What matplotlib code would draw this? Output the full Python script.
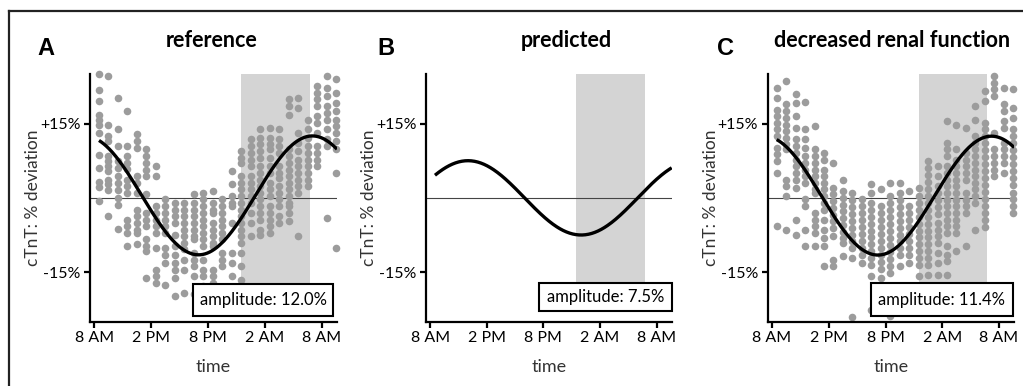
import numpy as np
import matplotlib.pyplot as plt
from matplotlib.lines import Line2D
from matplotlib.patches import Rectangle

plt.rcParams['font.family'] = ['Lato', 'DejaVu Sans']

# hourly sampling times (hours since midnight of day 1), 8:30 AM -> 9:30 AM next day
hours = np.arange(8.5, 34.0, 1.0)

# individual % deviations, one list per sampling time (panel A)
ref_dots = [
    [24.9, 21.7, 19.5, 16.8, 15.8, 14.8, 13.1, 8.6, 6.1, 3.2, 2.2, -0.7],
    [24.6, 14.8, 12.5, 11.4, 8.4, 7.4, 6.4, 5.4, 3.7, 2.7, 1.5, -3.7],
    [20.2, 13.8, 10.5, 7.5, 6.0, 4.5, 3.0, 1.5, 0.0, -1.5, -6.2],
    [17.6, 10.4, 8.4, 7.1, 5.8, 3.7, 2.4, 1.0, -4.4, -5.7, -7.1, -9.8],
    [12.8, 11.4, 10.1, 4.4, 3.0, 1.0, -2.4, -3.7, -5.0, -6.4, -7.1, -9.4],
    [9.8, 8.4, 7.1, 5.7, 4.4, 0.7, -3.0, -4.4, -5.7, -8.4, -9.8, -10.8, -16.2],
    [6.4, 4.4, -1.7, -3.0, -4.4, -5.7, -7.1, -10.1, -14.5, -15.8, -17.2],
    [-0.3, -1.7, -3.0, -4.4, -5.7, -7.1, -10.1, -11.5, -13.1, -17.5],
    [-1.0, -2.4, -3.7, -5.0, -7.5, -9.8, -11.5, -13.1, -14.5, -16.2, -19.9],
    [-1.0, -2.4, -3.7, -5.0, -6.4, -7.7, -9.1, -10.4, -12.5, -14.5, -19.2],
    [0.7, -1.0, -2.4, -3.7, -5.0, -6.4, -7.7, -8.4, -11.1, -12.5, -13.8, -15.8, -19.5],
    [1.0, -0.3, -1.7, -3.0, -4.4, -5.7, -7.1, -8.4, -9.8, -12.5, -14.5, -15.8, -17.8],
    [1.3, -1.0, -2.4, -3.0, -5.0, -6.4, -7.7, -9.1, -9.8, -14.5, -15.8, -17.2],
    [-0.3, -1.7, -3.0, -4.4, -5.7, -7.1, -8.4, -11.1, -12.5, -13.8],
    [5.4, 2.7, 0.3, -1.0, -1.7, -5.0, -11.1, -13.1, -15.8],
    [9.4, 8.1, 7.1, 4.4, 3.0, 1.7, 0.3, -1.0, -2.4, -3.7, -5.0, -6.4, -7.7, -9.1, -11.1, -13.8, -16.5],
    [11.8, 10.4, 9.1, 7.7, 6.4, 4.4, 3.0, 1.7, 0.3, -1.0, -3.0, -5.0, -7.7],
    [13.8, 12.1, 10.8, 9.4, 8.1, 6.4, 5.0, 3.7, 2.4, 1.0, -0.3, -1.7, -3.0, -4.4, -6.4, -7.4],
    [14.1, 12.1, 10.8, 9.8, 8.1, 6.4, 5.0, 3.0, 1.7, 0.3, -1.7, -3.0, -4.4, -5.7, -7.1],
    [13.8, 11.8, 10.4, 9.1, 6.4, 5.0, 4.0, 2.4, 1.0, -0.3, -1.7, -3.7, -5.0],
    [19.9, 18.5, 16.8, 9.8, 8.4, 7.1, 5.7, 4.4, 3.0, 1.7, 0.3, -1.0, -1.7, -3.0, -4.7],
    [20.2, 18.2, 13.1, 11.1, 9.4, 7.7, 6.4, 5.0, 3.7, 2.4, 1.0, -7.7],
    [15.8, 13.8, 12.1, 10.4, 9.1, 7.7, 6.4, 5.0, 3.7, 2.4],
    [22.6, 21.2, 19.9, 18.5, 16.5, 15.1, 13.1, 10.4, 9.1, 7.7, 6.4],
    [24.6, 22.2, 20.5, 18.5, 17.2, 15.8, 13.8, 11.8, 10.4, -4.0],
    [23.9, 21.2, 19.2, 17.5, 15.8, 14.5, 13.1, 11.4, 9.8, 5.0, -10.1],
]

# individual % deviations, decreased renal function (panel C)
renal_dots = [
    [22.2, 20.2, 17.8, 16.5, 15.1, 13.8, 12.5, 10.1, 8.8, 7.4, 5.1, -5.7],
    [23.6, 18.9, 17.5, 16.2, 14.8, 13.5, 12.1, 10.8, 9.8, 3.7, 2.4, 0.3, -6.4],
    [20.9, 19.2, 16.5, 14.1, 11.8, 10.4, 9.1, 7.7, 6.4, 5.0, 3.7, 2.0, -4.4, -7.5],
    [19.3, 13.8, 11.8, 10.1, 8.4, 7.1, 5.7, 4.4, 3.0, -0.3, -1.7, -6.4, -9.8],
    [14.5, 9.8, 8.4, 7.1, 5.7, 4.4, 3.0, 1.7, 1.0, -3.0, -4.4, -5.7, -7.1, -9.8],
    [9.1, 7.7, 5.7, 4.4, 3.0, 1.7, 0.3, -1.0, -2.4, -4.4, -6.4, -8.1, -9.8, -13.8],
    [7.1, 2.0, 0.7, -0.7, -2.0, -3.4, -4.7, -6.1, -7.7, -12.5, -13.8],
    [3.7, 1.3, 0.0, -1.4, -2.7, -4.1, -5.4, -6.8, -8.1, -9.1, -11.8],
    [1.0, -0.4, -1.8, -3.2, -4.6, -6.0, -7.4, -8.8, -10.2, -12.1, -24.0],
    [-0.3, -1.7, -3.1, -4.5, -5.9, -7.3, -8.7, -10.1, -11.5, -13.1],
    [2.7, 1.0, -1.0, -2.4, -3.8, -5.2, -6.6, -8.0, -9.4, -10.8, -12.2, -13.6, -15.8, -22.6],
    [1.7, -1.7, -3.1, -4.5, -5.9, -7.3, -8.7, -10.1, -11.5, -12.9, -14.3, -16.2],
    [3.0, 0.3, -1.1, -2.5, -3.9, -5.3, -6.7, -8.1, -9.5, -10.9, -12.3, -13.7, -15.2, -23.9],
    [3.0, 1.0, -0.4, -1.8, -3.2, -4.6, -6.0, -7.4, -8.8, -10.2, -11.6, -13.8],
    [1.3, -1.7, -3.1, -4.5, -5.9, -7.3, -8.7, -10.1, -11.5, -13.1],
    [2.0, 0.3, -1.0, -2.4, -3.8, -5.2, -6.6, -8.0, -9.4, -10.8, -12.2, -13.6, -15.8],
    [7.4, 6.0, 4.6, 3.2, 1.8, 0.4, -1.0, -2.4, -3.8, -5.2, -6.6, -8.0, -9.4, -10.8, -12.2, -13.6, -15.5],
    [6.4, 4.4, 2.4, 1.0, -0.4, -1.8, -3.2, -5.0, -6.4, -7.8, -9.2, -11.1, -13.1, -15.5],
    [15.5, 11.1, 9.8, 8.4, 6.4, 5.0, 3.7, 2.4, 1.0, -0.4, -1.7, -3.0, -4.4, -5.7, -7.1, -9.8, -11.5, -12.8, -15.5],
    [14.8, 9.8, 7.7, 6.4, 5.0, 3.7, 2.4, 1.0, -0.4, -1.7, -3.0, -4.4, -5.7, -7.1, -10.8],
    [14.1, 9.1, 7.7, 6.4, 5.0, 3.7, 1.0, -0.4, -1.7, -3.0, -9.8],
    [18.5, 15.8, 12.5, 11.1, 9.8, 8.4, 7.1, 5.7, 4.4, 3.0, 1.7, 0.3, -1.0, -6.4],
    [21.5, 19.5, 15.1, 13.8, 12.4, 11.0, 9.6, 8.2, 6.8, 5.4, 4.0, 2.6, 1.2, -0.2, -1.6, -3.0, -4.4, -5.8],
    [24.6, 23.2, 21.9, 20.5, 13.1, 9.8, 8.4, 7.1, 5.7, 4.4],
    [22.2, 18.9, 17.5, 15.5, 14.1, 11.1, 9.8, 8.4, 7.1, 5.0],
    [21.9, 18.2, 16.2, 13.8, 12.4, 11.0, 9.6, 8.2, 6.8, 5.4, 4.0, 2.6, 1.0, -0.3, -1.7, -3.0],
]

# cosinor fits: mesor (%), amplitude (%), acrophase (h)
mesor = [0.5, 0.0, 0.45]
amplitude = [12.0, 7.5, 12.0]
acrophase = [31.0, 12.0, 31.2]
amp_labels = ['amplitude: 12.0%', 'amplitude: 7.5%', 'amplitude: 11.4%']

titles = ['reference', 'predicted', 'decreased renal function']
letters = ['A', 'B', 'C']
sleep_start, sleep_end = 23.5, 30.75

xticks = [8, 14, 20, 26, 32]
xticklabels = ['8 AM', '2 PM', '8 PM', '2 AM', '8 AM']
yticks = [-15, 15]
yticklabels = ['-15%', '+15%']

dot_color = '#9c9c9c'
shade_color = '#d4d4d4'

fig = plt.figure(figsize=(10.23, 3.86), dpi=100)

# panel geometry in pixels: left, width
panel_px = [(90, 247), (426, 245.7), (767.7, 246.5)]
title_x = [212, 566, 892]
letter_x = [37, 377, 717]
# amplitude box (axes fraction): x0, x1, y0, y1
boxes = [(0.418, 0.985, 0.021, 0.153),
         (0.46, 1.0, 0.042, 0.156),
         (0.418, 0.996, 0.021, 0.156)]
dots = [ref_dots, None, renal_dots]

W, H = 1023, 386
for i in range(3):
    left, width = panel_px[i]
    ax = fig.add_axes([left / W, (H - 321.7) / H, width / W, (321.7 - 74) / H])
    ax.set_xlim(7.55, 33.6)
    ax.set_ylim(-25, 25)

    ax.axvspan(sleep_start, sleep_end, ymin=0.15, ymax=1, color=shade_color, lw=0, zorder=0)
    ax.axhline(0, color='#444444', lw=0.8, zorder=1)

    if dots[i] is not None:
        for h, vals in zip(hours, dots[i]):
            ax.scatter([h] * len(vals), vals, s=30, color=dot_color, lw=0, zorder=2, clip_on=False)

    t = np.linspace(8.5, 33.6, 300)
    ax.plot(t, mesor[i] + amplitude[i] * np.cos(2 * np.pi * (t - acrophase[i]) / 24),
            color='black', lw=2.4, zorder=3, solid_capstyle='butt')

    x0, x1, y0, y1 = boxes[i]
    ax.add_patch(Rectangle((x0, y0), x1 - x0, y1 - y0, transform=ax.transAxes,
                           fc='white', ec='black', lw=1.5, zorder=5, clip_on=False))
    ax.text((x0 + x1) / 2, (y0 + y1) / 2, amp_labels[i], transform=ax.transAxes,
            ha='center', va='center', fontsize=12, zorder=6)

    for side in ['top', 'right']:
        ax.spines[side].set_visible(False)
    for side in ['left', 'bottom']:
        ax.spines[side].set_linewidth(1.6)
    ax.set_xticks(xticks)
    ax.set_xticklabels(xticklabels)
    ax.set_yticks(yticks)
    ax.set_yticklabels(yticklabels)
    ax.tick_params(direction='out', length=4.5, width=1.6, labelsize=11.5, pad=2.5)

    fig.text((left - 57) / W, (H - 198) / H, 'cTnT: % deviation', rotation=90,
             ha='center', va='center', fontsize=12.5, color='#333333')
    fig.text((left + width / 2) / W, (H - 367) / H, 'time', ha='center', va='center',
             fontsize=13, color='#333333')
    fig.text(title_x[i] / W, (H - 47) / H, titles[i], ha='center', va='baseline',
             fontsize=15.5, fontweight='bold')
    fig.text(letter_x[i] / W, (H - 55) / H, letters[i], ha='left', va='baseline',
             fontsize=17, fontweight='bold', family='Liberation Sans')

# outer frame (left and top edges only)
fig.add_artist(Line2D([9 / W, 9 / W], [0, (H - 10.5) / H], color='#222222', lw=1.6))
fig.add_artist(Line2D([9 / W, 1], [(H - 10.5) / H, (H - 10.5) / H], color='#222222', lw=1.6))

fig.savefig('out.png', dpi=100)
